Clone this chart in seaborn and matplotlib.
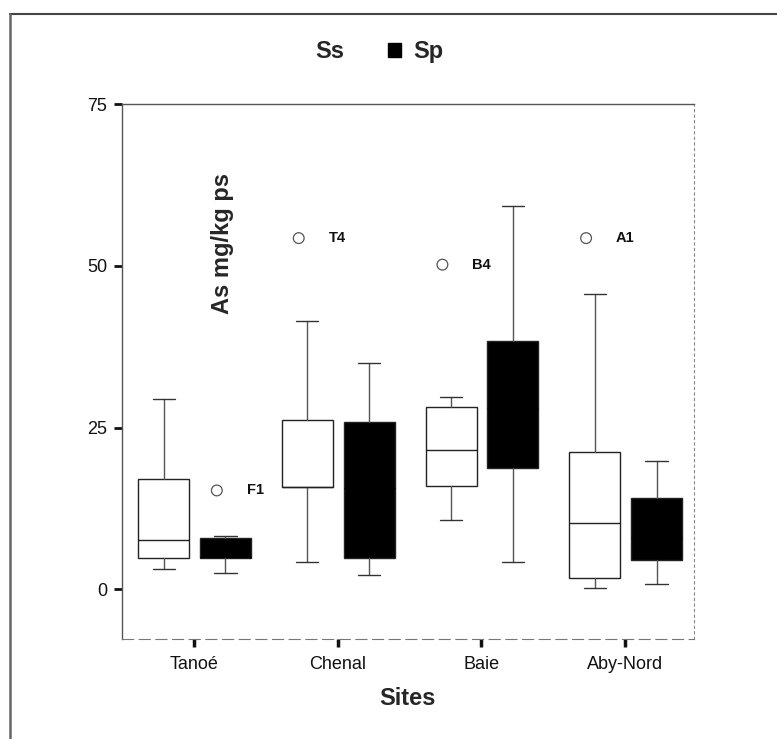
import numpy as np
import pandas as pd
import seaborn as sns
import matplotlib.pyplot as plt
from matplotlib.patches import Patch
from matplotlib.lines import Line2D

# ===============================
# Data
# ===============================
sites = ["Tanoé", "Chenal", "Baie", "Aby-Nord"]

# Ss (white boxes)
ss_whislo = [3.1, 4.2, 10.8, 0.2]
ss_q1 = [4.8, 15.9, 16.0, 1.7]
ss_med = [7.6, 15.9, 21.6, 10.2]
ss_q3 = [17.0, 26.2, 28.2, 21.3]
ss_whishi = [29.5, 41.5, 29.8, 45.7]

# Sp (black boxes, median not visible)
sp_whislo = [2.5, 2.3, 4.2, 0.9]
sp_q1 = [4.8, 4.9, 18.8, 4.5]
sp_med = [5.0, 15.6, 28.0, 8.0]
sp_q3 = [8.0, 25.9, 38.4, 14.2]
sp_whishi = [8.2, 35.0, 59.3, 19.8]

# labelled outliers
out_site = ["Tanoé", "Chenal", "Baie", "Aby-Nord"]
out_group = ["Sp", "Ss", "Ss", "Ss"]
out_value = [15.3, 54.3, 50.2, 54.3]
out_label = ["F1", "T4", "B4", "A1"]

# ===============================
# Style
# ===============================
sns.set_style("white")
plt.rcParams["font.family"] = ["Liberation Sans", "DejaVu Sans"]

OFFSET = {"Ss": -0.21, "Sp": 0.22}
WIDTH = 0.355
CAPW = 0.155

fig = plt.figure(figsize=(7.77, 7.39), dpi=100)
ax = fig.add_axes([0.157, 0.135, 0.736, 0.724])


def make_stats(lo, q1, med, q3, hi):
    return [dict(whislo=a, q1=b, med=c, q3=d, whishi=e, fliers=[])
            for a, b, c, d, e in zip(lo, q1, med, q3, hi)]


x = np.arange(len(sites))
groups = [
    ("Ss", make_stats(ss_whislo, ss_q1, ss_med, ss_q3, ss_whishi), "white", "#222222"),
    ("Sp", make_stats(sp_whislo, sp_q1, sp_med, sp_q3, sp_whishi), "black", "black"),
]
for name, stats, fc, mc in groups:
    ax.bxp(
        stats,
        positions=x + OFFSET[name],
        widths=WIDTH,
        capwidths=CAPW,
        patch_artist=True,
        showfliers=False,
        boxprops=dict(facecolor=fc, edgecolor="#222222", linewidth=1.0),
        medianprops=dict(color=mc, linewidth=1.0),
        whiskerprops=dict(color="#555555", linewidth=1.0),
        capprops=dict(color="#333333", linewidth=1.0),
        manage_ticks=False,
    )

# outliers
out_df = pd.DataFrame({
    "pos": [sites.index(s) + OFFSET[g] - 0.06 for s, g in zip(out_site, out_group)],
    "value": out_value,
})
sns.scatterplot(data=out_df, x="pos", y="value", ax=ax, marker="o", s=60,
                facecolor="none", edgecolor="#555555", linewidth=0.9, zorder=3)
for px, v, lab in zip(out_df["pos"], out_value, out_label):
    ax.text(px + 0.27, v, lab, ha="center", va="center",
            fontsize=10.5, fontweight="bold", color="#111111")

# ===============================
# Axes
# ===============================
ax.set_xlim(-0.5, 3.48)
ax.set_ylim(-7.7, 75)
ax.set_xticks(x)
ax.set_xticklabels(sites, fontsize=13)
ax.set_yticks([0, 25, 50, 75])
ax.set_yticklabels(["0", "25", "50", "75"], fontsize=13)
ax.tick_params(axis="both", direction="out", colors="#111111",
               bottom=True, left=True)
ax.tick_params(axis="y", length=6, width=2, pad=4.5)
ax.tick_params(axis="x", length=6, width=2.5, pad=6)
ax.set_xlabel("Sites", fontsize=17, fontweight="bold", labelpad=10)
ax.set_ylabel("As mg/kg ps", fontsize=17, fontweight="bold")
ax.yaxis.set_label_coords(0.195, 0.74)

for side in ["left", "top"]:
    ax.spines[side].set_color("#555555")
    ax.spines[side].set_linewidth(1.0)
ax.spines["right"].set_color("#888888")
ax.spines["right"].set_linestyle((0, (2, 3)))
ax.spines["bottom"].set_color("#777777")
ax.spines["bottom"].set_linestyle((0, (10, 5)))

# legend at the top
handles = [Patch(facecolor="white", edgecolor="white"),
           Patch(facecolor="black", edgecolor="black")]
fig.legend(handles, ["Ss", "Sp"], loc="center", bbox_to_anchor=(0.472, 0.93),
           ncol=2, frameon=False, handlelength=0.55, handleheight=0.55,
           handletextpad=0.5, columnspacing=1.85,
           prop=dict(size=17, weight="bold"))

# partial outer frame (top and left)
fig.add_artist(Line2D([0.013, 1.0], [1 - 14 / 739, 1 - 14 / 739],
                      transform=fig.transFigure, color="#444444", linewidth=1.5))
fig.add_artist(Line2D([0.013, 0.013], [0.0, 1 - 14 / 739],
                      transform=fig.transFigure, color="#666666", linewidth=1.8))

fig.savefig("out.png", dpi=100)
